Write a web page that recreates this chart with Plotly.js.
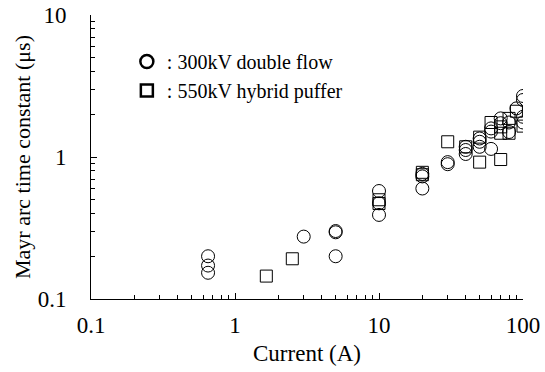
<!DOCTYPE html>
<html><head><meta charset="utf-8">
<script src="https://cdn.plot.ly/plotly-3.0.1.min.js"></script>
<style>html,body{margin:0;padding:0;background:#fff}#c{width:545px;height:372px}</style>
</head><body><div id="c"></div>
<script>
const seriesNames = [": 300kV double flow", ": 550kV hybrid puffer"];
const doubleFlowX = [0.65,0.65,0.65, 3, 5,5,5, 10,10,10, 20,20,20, 30,30, 40,40,40, 50,50,50, 60,60,60, 70,70, 80,80, 90, 100,100,100,100];
const doubleFlowY = [0.20,0.172,0.153, 0.275, 0.301,0.295,0.20, 0.576,0.472,0.391, 0.76,0.73,0.60, 0.92,0.89, 1.18,1.12,1.05, 1.35,1.28,1.18, 1.59,1.51,1.14, 1.87,1.73, 1.75,1.5, 2.2, 2.69,2.52,1.92,1.75];
const hybridX = [1.65, 2.5, 10, 10, 20, 20, 30, 40, 50, 50, 60, 70, 70, 70, 80, 80, 90, 100];
const hybridY = [0.145, 0.192, 0.47, 0.50, 0.75, 0.78, 1.28, 1.18, 1.38, 0.92, 1.75, 1.63, 1.47, 0.96, 1.87, 1.47, 2.1, 1.65];
const majorTicks = [0.1, 1, 10, 100];
const majorTickText = ["0.1", "1", "10", "100"];
const yMajorTicks = [0.1, 1, 10];
const yMajorTickText = ["0.1", "1", "10"];
const minorTicks = [0.2,0.3,0.4,0.5,0.6,0.7,0.8,0.9,2,3,4,5,6,7,8,9,20,30,40,50,60,70,80,90];

const family = "Liberation Serif, Times New Roman, serif";
const tickFont = {family: family, size: 23, color: "#000"};
const xTitleFont = {family: family, size: 23, color: "#000"};
const yTitleFont = {family: family, size: 22, color: "#000"};
const traces = [
  {x: doubleFlowX, y: doubleFlowY, type: "scatter", mode: "markers", showlegend: false,
   marker: {symbol: "circle-open", size: 13, color: "#000", line: {width: 1, color: "#000"}}},
  {x: hybridX, y: hybridY, type: "scatter", mode: "markers", showlegend: false,
   marker: {symbol: "square-open", size: 12, color: "#000", line: {width: 1, color: "#000"}}},
  {x: [null], y: [null], type: "scatter", mode: "markers", name: seriesNames[0],
   marker: {symbol: "circle-open", size: 13, color: "#000", line: {width: 2.5, color: "#000"}}},
  {x: [null], y: [null], type: "scatter", mode: "markers", name: seriesNames[1],
   marker: {symbol: "square-open", size: 12, color: "#000", line: {width: 2.5, color: "#000"}}}
];
const axisCommon = {
  type: "log", showgrid: false, zeroline: false, showline: true, linecolor: "#000", linewidth: 1,
  ticks: "inside", ticklen: 6, tickcolor: "#000", tickwidth: 1, tickfont: tickFont,
  minor: {tickvals: minorTicks, ticks: "inside", ticklen: 4, tickcolor: "#000", tickwidth: 1, showgrid: false}
};
const layout = {
  width: 545, height: 372,
  margin: {l: 91, r: 22, t: 15, b: 73},
  paper_bgcolor: "#fff", plot_bgcolor: "#fff",
  font: tickFont,
  showlegend: true,
  legend: {x: 0.083, y: 0.905, xanchor: "left", yanchor: "top", bgcolor: "rgba(0,0,0,0)",
    font: {family: family, size: 20, color: "#000"}, tracegroupgap: 0},
  xaxis: Object.assign({}, axisCommon, {range: [-1, 2], tickmode: "array", tickvals: majorTicks, ticktext: majorTickText,
    ticklabelstandoff: 5,
    title: {text: "Current (A)", font: xTitleFont, standoff: 8}}),
  yaxis: Object.assign({}, axisCommon, {range: [-1, 1], tickmode: "array", tickvals: yMajorTicks, ticktext: yMajorTickText,
    ticklabelstandoff: 19,
    title: {text: "Mayr arc time constant (μs)", font: yTitleFont, standoff: 0}})
};
Plotly.newPlot("c", traces, layout, {displayModeBar: false, staticPlot: true});
</script></body></html>
